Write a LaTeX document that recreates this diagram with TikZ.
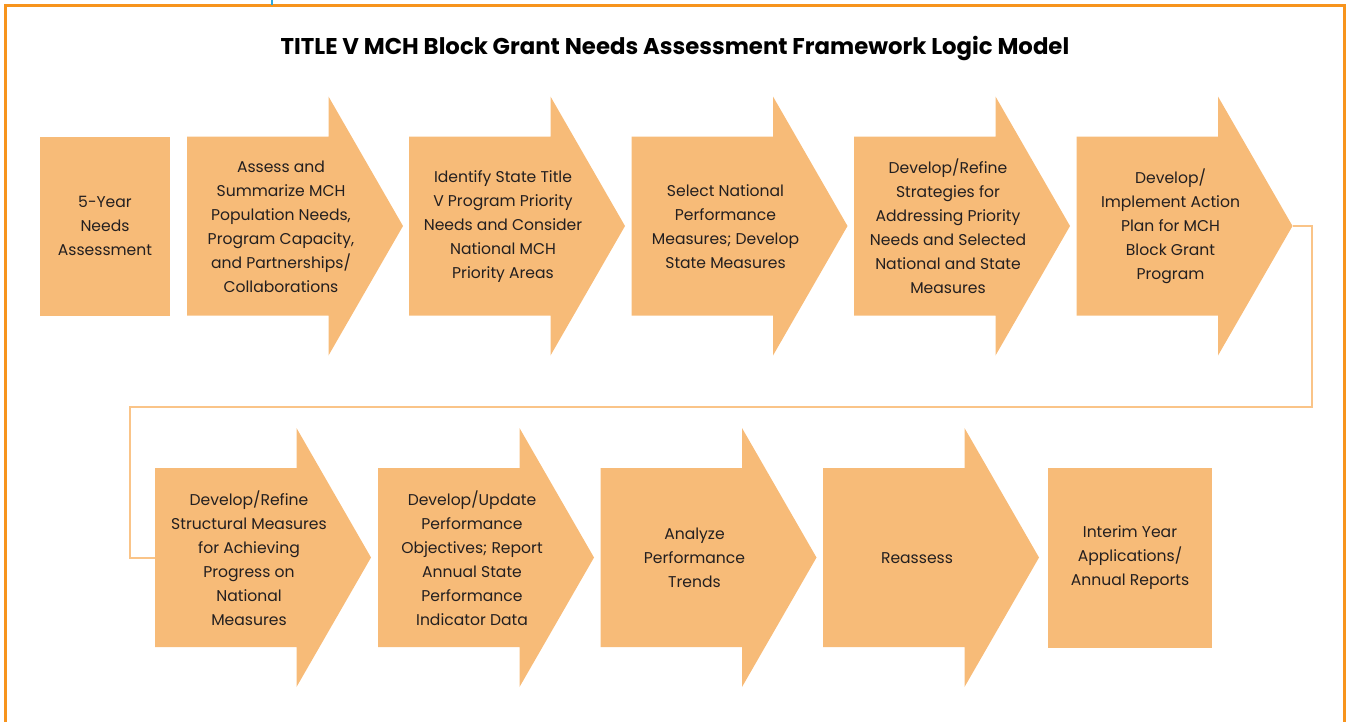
\documentclass[tikz,border=0pt]{standalone}
\usepackage{fontspec}
\setmainfont{Poppins}
\begin{document}
\definecolor{framecol}{HTML}{F7941D}
\definecolor{linkcol}{HTML}{FAC488}
\definecolor{stepfill}{HTML}{F7BB78}
\definecolor{inkcol}{HTML}{231F20}
\definecolor{tickblue}{HTML}{29A9E0}
\begin{tikzpicture}[x=1pt,y=-1pt,
  stepshape/.style={fill=stepfill,draw=none},
  steptext/.style={align=center,text=inkcol,inner sep=0pt,font=\fontsize{15.6}{24}\selectfont},
  linkline/.style={draw=linkcol,line width=2pt},
]
\useasboundingbox (0,0) rectangle (1348,721);
% outer frame and small marker at the top edge
\draw[framecol,line width=3pt] (5,740) -- (5,5) -- (1344,5) -- (1344,740);
\draw[tickblue,line width=2.5pt] (272,0) -- (272,5);
% title
\node[text=black,font=\bfseries\fontsize{22.8}{26}\selectfont] (title) at (675,48) {TITLE V MCH Block Grant Needs Assessment Framework Logic Model};

% plain box: #1 name, #2 left, #3 top, #4 right, #5 bottom, #6 text
\newcommand\stepbox[6]{%
  \fill[stepshape] (#2,#3) rectangle (#4,#5);
  \node[steptext] (#1) at ({(#2+#4)/2},{(#3+#5)/2}) {#6};
  \coordinate (#1-left) at (#2,{(#3+#5)/2});
}
% chevron arrow: #1 name, #2 left, #3 body top, #4 text
\newcommand\steparrow[4]{%
  \fill[stepshape] (#2,#3) -- ++(141.5,0) -- ++(0,-40) -- ++(74.5,129.5)
     -- ++(-74.5,129.5) -- ++(0,-40) -- ++(-141.5,0) -- cycle;
  \node[steptext] (#1) at (#2+94,#3+90) {#4};
  \coordinate (#1-tip) at (#2+216,#3+89.5);
  \coordinate (#1-left) at (#2,#3+89.5);
}

% connector between the two rows (drawn first, below the shapes)
\coordinate (turnR) at (1312,407);
\coordinate (turnL) at (130,407);
\coordinate (a6-tip) at (1292.5,226);
\coordinate (a7-left) at (155,557.5);
\draw[linkline] (a6-tip) -| (turnR) -- (turnL) |- (a7-left);

% first row
\stepbox{s1}{40}{136.5}{170}{315.5}{5-Year\\Needs\\Assessment}
\steparrow{a2}{187}{136.5}{Assess and\\Summarize MCH\\Population Needs,\\Program Capacity,\\and Partnerships/\\Collaborations}
\steparrow{a3}{409}{136.5}{Identify State Title\\V Program Priority\\Needs and Consider\\National MCH\\Priority Areas}
\steparrow{a4}{631.5}{136.5}{Select National\\Performance\\Measures; Develop\\State Measures}
\steparrow{a5}{854}{136.5}{Develop/Refine\\Strategies for\\Addressing Priority\\Needs and Selected\\National and State\\Measures}
\steparrow{a6}{1076.5}{136.5}{Develop/\\Implement Action\\Plan for MCH\\Block Grant\\Program}

% second row
\steparrow{a7}{155}{468}{Develop/Refine\\Structural Measures\\for Achieving\\Progress on\\National\\Measures}
\steparrow{a8}{378}{468}{Develop/Update\\Performance\\Objectives; Report\\Annual State\\Performance\\Indicator Data}
\steparrow{a9}{600.5}{468}{Analyze\\Performance\\Trends}
\steparrow{a10}{823}{468}{Reassess}
\stepbox{s11}{1048}{468}{1212}{647.5}{Interim Year\\Applications/\\Annual Reports}
\end{tikzpicture}
\end{document}
